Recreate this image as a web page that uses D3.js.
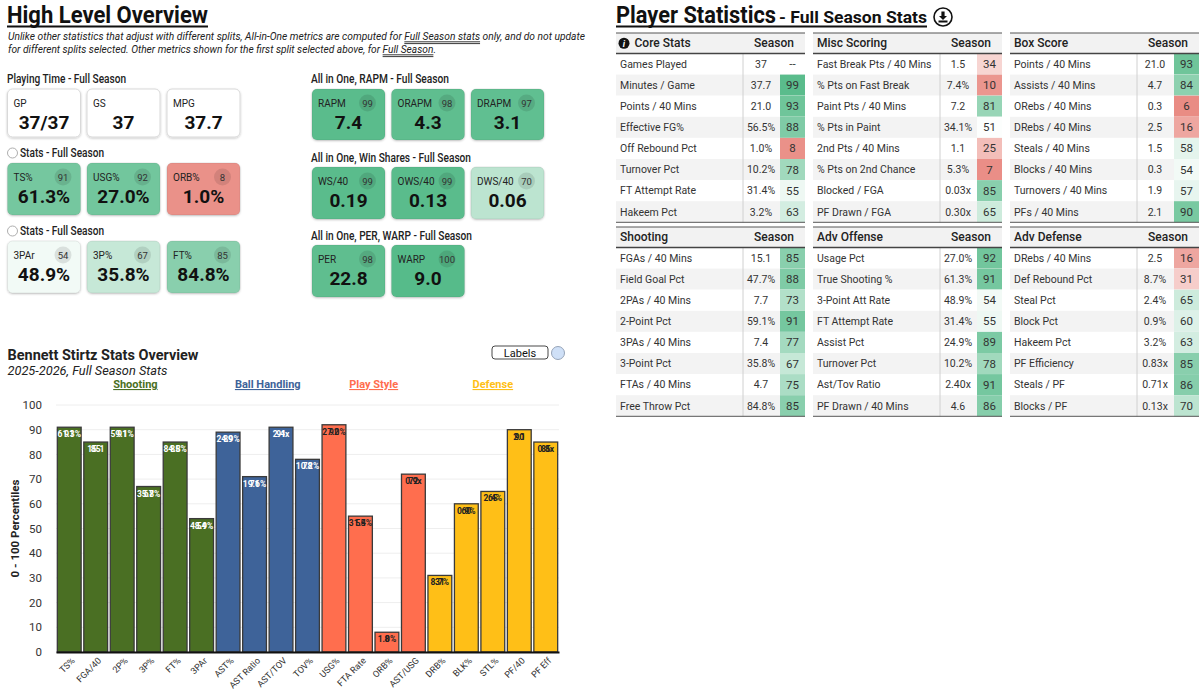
<!DOCTYPE html>
<html>
<head>
<meta charset="utf-8">
<script src="https://cdn.jsdelivr.net/npm/d3@7"></script>
<style>
  body { margin: 0; background: #fff; }
  svg text { font-family: Roboto, "Liberation Sans", sans-serif; }
</style>
</head>
<body>
<svg id="chart" width="1201" height="690"></svg>
<script>
// ---- card data (left, top) ----
const playingLabels = ['GP', 'GS', 'MPG'];
const playingValues = ['37/37', '37', '37.7'];
const rapmLabels = ['RAPM', 'ORAPM', 'DRAPM'];
const rapmValues = ['7.4', '4.3', '3.1'];
const rapmPct = [99, 98, 97];
const statsALabels = ['TS%', 'USG%', 'ORB%'];
const statsAValues = ['61.3%', '27.0%', '1.0%'];
const statsAPct = [91, 92, 8];
const wsLabels = ['WS/40', 'OWS/40', 'DWS/40'];
const wsValues = ['0.19', '0.13', '0.06'];
const wsPct = [99, 99, 70];
const statsBLabels = ['3PAr', '3P%', 'FT%'];
const statsBValues = ['48.9%', '35.8%', '84.8%'];
const statsBPct = [54, 67, 85];
const perLabels = ['PER', 'WARP'];
const perValues = ['22.8', '9.0'];
const perPct = [98, 100];

// ---- bar chart data ----
const groupNames = ['Shooting', 'Ball Handling', 'Play Style', 'Defense'];
const barCategories = ['TS%', 'FGA/40', '2P%', '3P%', 'FT%', '3PAr', 'AST%', 'AST Ratio', 'AST/TOV', 'TOV%',
  'USG%', 'FTA Rate', 'ORB%', 'AST/USG', 'DRB%', 'BLK%', 'STL%', 'PF/40', 'PF Eff'];
const barGroups = ['Shooting', 'Shooting', 'Shooting', 'Shooting', 'Shooting', 'Shooting',
  'Ball Handling', 'Ball Handling', 'Ball Handling', 'Ball Handling',
  'Play Style', 'Play Style', 'Play Style', 'Play Style',
  'Defense', 'Defense', 'Defense', 'Defense', 'Defense'];
const barPercentiles = [91, 85, 91, 67, 85, 54, 89, 71, 91, 78, 92, 55, 8, 72, 31, 60, 65, 90, 85];
const barValueLabels = ['61.3%', '15.1', '59.1%', '35.8%', '84.8%', '48.9%', '24.9%', '19.6%', '2.4x', '10.2%',
  '27.0%', '31.4%', '1.0%', '0.9x', '8.7%', '0.9%', '2.4%', '2.1', '0.8x'];
const yTicks = [0, 10, 20, 30, 40, 50, 60, 70, 80, 90, 100];

// ---- tables ----
const coreLabels = ['Games Played', 'Minutes / Game', 'Points / 40 Mins', 'Effective FG%', 'Off Rebound Pct', 'Turnover Pct', 'FT Attempt Rate', 'Hakeem Pct'];
const coreValues = ['37', '37.7', '21.0', '56.5%', '1.0%', '10.2%', '31.4%', '3.2%'];
const corePct = [null, 99, 93, 88, 8, 78, 55, 63];
const miscLabels = ['Fast Break Pts / 40 Mins', '% Pts on Fast Break', 'Paint Pts / 40 Mins', '% Pts in Paint', '2nd Pts / 40 Mins', '% Pts on 2nd Chance', 'Blocked / FGA', 'PF Drawn / FGA'];
const miscValues = ['1.5', '7.4%', '7.2', '34.1%', '1.1', '5.3%', '0.03x', '0.30x'];
const miscPct = [34, 10, 81, 51, 25, 7, 85, 65];
const boxLabels = ['Points / 40 Mins', 'Assists / 40 Mins', 'ORebs / 40 Mins', 'DRebs / 40 Mins', 'Steals / 40 Mins', 'Blocks / 40 Mins', 'Turnovers / 40 Mins', 'PFs / 40 Mins'];
const boxValues = ['21.0', '4.7', '0.3', '2.5', '1.5', '0.3', '1.9', '2.1'];
const boxPct = [93, 84, 6, 16, 58, 54, 57, 90];
const shootLabels = ['FGAs / 40 Mins', 'Field Goal Pct', '2PAs / 40 Mins', '2-Point Pct', '3PAs / 40 Mins', '3-Point Pct', 'FTAs / 40 Mins', 'Free Throw Pct'];
const shootValues = ['15.1', '47.7%', '7.7', '59.1%', '7.4', '35.8%', '4.7', '84.8%'];
const shootPct = [85, 88, 73, 91, 77, 67, 75, 85];
const offLabels = ['Usage Pct', 'True Shooting %', '3-Point Att Rate', 'FT Attempt Rate', 'Assist Pct', 'Turnover Pct', 'Ast/Tov Ratio', 'PF Drawn / 40 Mins'];
const offValues = ['27.0%', '61.3%', '48.9%', '31.4%', '24.9%', '10.2%', '2.40x', '4.6'];
const offPct = [92, 91, 54, 55, 89, 78, 91, 86];
const defLabels = ['DRebs / 40 Mins', 'Def Rebound Pct', 'Steal Pct', 'Block Pct', 'Hakeem Pct', 'PF Efficiency', 'Steals / PF', 'Blocks / PF'];
const defValues = ['2.5', '8.7%', '2.4%', '0.9%', '3.2%', '0.83x', '0.71x', '0.13x'];
const defPct = [16, 31, 65, 60, 63, 85, 86, 70];

const groupColors = { 'Shooting': '#4a6f23', 'Ball Handling': '#3e6399', 'Play Style': '#ff6e4e', 'Defense': '#ffbf17' };
const labelColors = { 'Shooting': '#fff', 'Ball Handling': '#fff', 'Play Style': '#222', 'Defense': '#222' };

const ARIAL = '"Liberation Sans", Arial, sans-serif';

const pctColor = p => p == null ? null : (p >= 50
  ? d3.interpolateRgb('#ffffff', '#57bb8a')((p - 50) / 50)
  : d3.interpolateRgb('#ffffff', '#e67c73')((50 - p) / 50));

const svg = d3.select('#chart');

const defs = svg.append('defs');
defs.append('filter').attr('id', 'shadow')
  .attr('x', '-10%').attr('y', '-10%').attr('width', '120%').attr('height', '135%')
  .append('feDropShadow')
  .attr('dx', 0).attr('dy', 1).attr('stdDeviation', 1.1)
  .attr('flood-color', '#000').attr('flood-opacity', 0.22);

// fit a text node into a given width
const fit = (sel, w) => sel.attr('textLength', w).attr('lengthAdjust', 'spacingAndGlyphs');

// ================= LEFT: High Level Overview =================
svg.append('text').attr('x', 7).attr('y', 23)
  .attr('font-size', 23).attr('font-weight', 700).attr('fill', '#111')
  .text('High Level Overview').call(fit, 201);
svg.append('line').attr('x1', 7).attr('x2', 208).attr('y1', 26.5).attr('y2', 26.5)
  .attr('stroke', '#111').attr('stroke-width', 2);

function noteLine(y, str, target, ul) {
  const t = svg.append('text').attr('x', 8).attr('y', y)
    .attr('font-size', 11.5).attr('font-style', 'italic').attr('fill', '#222').text(str);
  const node = t.node();
  const k = target / node.getComputedTextLength();
  const i = str.indexOf(ul);
  const x0 = 8 + node.getSubStringLength(0, i) * k;
  const w = node.getSubStringLength(i, ul.length) * k;
  t.call(fit, target);
  [y + 1.8, y + 3.6].forEach(yy => svg.append('line')
    .attr('x1', x0).attr('x2', x0 + w).attr('y1', yy).attr('y2', yy)
    .attr('stroke', '#222').attr('stroke-width', 0.9));
}
noteLine(40, 'Unlike other statistics that adjust with different splits, All-in-One metrics are computed for Full Season stats only, and do not update', 577, 'Full Season stats');
noteLine(53, 'for different splits selected. Other metrics shown for the first split selected above, for Full Season.', 428, 'Full Season');

function sectionLabel(x, y, str, w) {
  svg.append('text').attr('x', x).attr('y', y)
    .attr('font-size', 12).attr('font-weight', 500).attr('fill', '#222')
    .text(str).call(fit, w);
}
function radio(y) {
  svg.append('circle').attr('cx', 12.5).attr('cy', y).attr('r', 5)
    .attr('fill', '#fff').attr('stroke', '#999').attr('stroke-width', 0.8);
}

const leftX = [7.5, 87, 167];
const rightX = [312, 391.5, 471];
const cardW = 73;

function drawCards(xs, top, h, labels, values, pcts) {
  const cards = svg.append('g').selectAll('g')
    .data(labels.map((l, i) => ({ l, v: values[i], p: pcts ? pcts[i] : null, x: xs[i] })))
    .join('g')
    .attr('transform', d => `translate(${d.x},${top})`);
  cards.append('rect').attr('width', cardW).attr('height', h).attr('rx', 5)
    .attr('fill', d => d.p == null ? '#fff' : pctColor(d.p))
    .attr('stroke', d => d.p == null ? '#d9d9d9' : 'rgba(0,0,0,0.07)')
    .attr('filter', 'url(#shadow)');
  cards.append('text').attr('x', 6).attr('y', 18)
    .attr('font-size', 10).attr('fill', '#222').text(d => d.l);
  cards.filter(d => d.p != null).append('circle')
    .attr('cx', cardW - 17.5).attr('cy', 14).attr('r', 8.5)
    .attr('fill', 'rgba(0,0,0,0.1)');
  cards.filter(d => d.p != null).append('text')
    .attr('x', cardW - 17.5).attr('y', 17.5).attr('text-anchor', 'middle')
    .attr('font-size', 9.5).attr('fill', '#333').text(d => d.p);
  cards.append('text').attr('x', cardW / 2).attr('y', 40).attr('text-anchor', 'middle')
    .attr('font-size', 19).attr('font-weight', 700).attr('fill', '#111').text(d => d.v);
}

sectionLabel(7, 83, 'Playing Time - Full Season', 119);
drawCards(leftX, 89, 48, playingLabels, playingValues, null);
sectionLabel(311, 83, 'All in One, RAPM - Full Season', 138);
drawCards(rightX, 89, 51, rapmLabels, rapmValues, rapmPct);

radio(153);
sectionLabel(20, 157, 'Stats - Full Season', 84);
drawCards(leftX, 163, 52, statsALabels, statsAValues, statsAPct);
sectionLabel(311, 162, 'All in One, Win Shares - Full Season', 160);
drawCards(rightX, 167, 52, wsLabels, wsValues, wsPct);

radio(231);
sectionLabel(20, 235, 'Stats - Full Season', 84);
drawCards(leftX, 241, 52, statsBLabels, statsBValues, statsBPct);
sectionLabel(311, 240, 'All in One, PER, WARP - Full Season', 161);
drawCards(rightX, 245, 52, perLabels, perValues, perPct);

// ================= LEFT: Bar chart =================
svg.append('text').attr('x', 7.5).attr('y', 360)
  .attr('font-size', 14.5).attr('font-weight', 700).attr('fill', '#222')
  .text('Bennett Stirtz Stats Overview').call(fit, 191);
svg.append('text').attr('x', 7.5).attr('y', 375)
  .attr('font-size', 13).attr('font-style', 'italic').attr('fill', '#222')
  .text('2025-2026, Full Season Stats').call(fit, 160);

// Labels toggle
svg.append('rect').attr('x', 492).attr('y', 346).attr('width', 56).attr('height', 13).attr('rx', 3)
  .attr('fill', '#fff').attr('stroke', '#333').attr('stroke-width', 0.9);
svg.append('text').attr('x', 520).attr('y', 356.5).attr('text-anchor', 'middle')
  .attr('font-size', 11).attr('fill', '#111').attr('font-family', ARIAL).text('Labels');
svg.append('circle').attr('cx', 558).attr('cy', 353).attr('r', 6.5)
  .attr('fill', '#cfe0f7').attr('stroke', '#8c9bb0').attr('stroke-width', 0.9);

const x = d3.scaleBand().domain(barCategories).range([56, 559]).paddingInner(0.1).paddingOuter(0.05);
const y = d3.scaleLinear().domain([0, 100]).range([652, 405]);

// gridlines
svg.append('g').selectAll('line').data(yTicks).join('line')
  .attr('x1', 56).attr('x2', 559)
  .attr('y1', d => y(d)).attr('y2', d => y(d))
  .attr('stroke', '#eeeeee').attr('stroke-width', 1);

// y axis
const yAxis = svg.append('g').attr('transform', 'translate(44,0)')
  .call(d3.axisLeft(y).tickValues(yTicks).tickSize(0).tickPadding(2));
yAxis.select('.domain').remove();
yAxis.selectAll('text').attr('font-size', 11.5).attr('fill', '#333').attr('font-family', ARIAL);

svg.append('text')
  .attr('transform', `translate(19,${y(50)}) rotate(-90)`)
  .attr('text-anchor', 'middle').attr('font-size', 11.5).attr('font-weight', 700)
  .attr('fill', '#222').attr('font-family', ARIAL)
  .text('0 - 100 Percentiles');

// group legend
const groupCenter = g => {
  const cats = barCategories.filter((c, i) => barGroups[i] === g);
  return (x(cats[0]) + x(cats[cats.length - 1]) + x.bandwidth()) / 2;
};
svg.append('g').selectAll('text').data(groupNames).join('text')
  .attr('x', groupCenter).attr('y', 388).attr('text-anchor', 'middle')
  .attr('font-size', 11).attr('font-weight', 700)
  .attr('text-decoration', 'underline')
  .attr('fill', d => groupColors[d]).text(d => d);

// bars
const bars = barCategories.map((c, i) => ({ c, p: barPercentiles[i], v: barValueLabels[i], g: barGroups[i] }));
svg.append('g').selectAll('rect').data(bars).join('rect')
  .attr('x', d => x(d.c)).attr('width', x.bandwidth())
  .attr('y', d => y(d.p)).attr('height', d => y(0) - y(d.p))
  .attr('fill', d => groupColors[d.g])
  .attr('stroke', '#3a3a3a').attr('stroke-width', 1.3);

// value + percentile labels, both centred at the bar top (they overlap, as in the source)
const lab = svg.append('g').selectAll('g').data(bars).join('g')
  .attr('transform', d => `translate(${x(d.c) + x.bandwidth() / 2},${y(d.p) + 10})`)
  .attr('font-size', 8.5).attr('font-weight', 700).attr('font-family', ARIAL)
  .attr('text-anchor', 'middle');
lab.append('text').attr('fill', d => labelColors[d.g]).text(d => d.v);
lab.append('text').attr('fill', d => labelColors[d.g]).text(d => d.p);

// x axis
const xAxis = svg.append('g').attr('transform', 'translate(0,652)')
  .call(d3.axisBottom(x).tickSize(0).tickSizeOuter(0));
xAxis.select('.domain').attr('stroke', '#111').attr('stroke-width', 2);
xAxis.selectAll('text')
  .attr('font-size', 9).attr('fill', '#333').attr('font-family', ARIAL)
  .attr('x', 0).attr('y', 0).attr('dy', '0.35em')
  .attr('text-anchor', 'end')
  .attr('transform', 'translate(4,7) rotate(-45)');

// ================= RIGHT: Player Statistics =================
svg.append('text').attr('x', 616).attr('y', 23)
  .attr('font-size', 23).attr('font-weight', 700).attr('fill', '#111')
  .text('Player Statistics').call(fit, 160);
svg.append('text').attr('x', 779).attr('y', 23)
  .attr('font-size', 16.5).attr('font-weight', 700).attr('fill', '#111')
  .text('- Full Season Stats').call(fit, 148);
svg.append('line').attr('x1', 616).attr('x2', 927).attr('y1', 26.5).attr('y2', 26.5)
  .attr('stroke', '#111').attr('stroke-width', 2);
// download icon
const dl = svg.append('g').attr('transform', 'translate(943,17)');
dl.append('circle').attr('r', 9).attr('fill', '#fff').attr('stroke', '#111').attr('stroke-width', 1.6);
dl.append('path').attr('d', 'M-1.6,-5.5 H1.6 V-1 H4 L0,3 L-4,-1 H-1.6 Z').attr('fill', '#111');
dl.append('rect').attr('x', -4.5).attr('y', 3.5).attr('width', 9).attr('height', 2).attr('fill', '#111');

const tableW = 189, headH = 20.5, rowH = 21.1;
function drawTable(tx, ty, title, labels, values, pcts, info) {
  const g = svg.append('g').attr('transform', `translate(${tx},${ty})`);
  g.append('rect').attr('width', tableW).attr('height', headH).attr('fill', '#f2f2f2');
  if (info) {
    g.append('circle').attr('cx', 8).attr('cy', headH / 2).attr('r', 5.5).attr('fill', '#111');
    g.append('text').attr('x', 8).attr('y', headH / 2 + 3.5).attr('text-anchor', 'middle')
      .attr('font-size', 9).attr('font-weight', 700).attr('font-style', 'italic')
      .attr('font-family', 'serif').attr('fill', '#fff').text('i');
  }
  g.append('text').attr('x', info ? 18.5 : 4).attr('y', headH / 2 + 4.2)
    .attr('font-size', 12).attr('font-weight', 500).attr('fill', '#222').text(title);
  g.append('text').attr('x', 158).attr('y', headH / 2 + 4.2).attr('text-anchor', 'middle')
    .attr('font-size', 12).attr('font-weight', 500).attr('fill', '#222').text('Season');

  const rows = g.selectAll('g.row')
    .data(labels.map((l, i) => ({ l, v: values[i], p: pcts[i], i })))
    .join('g').attr('class', 'row')
    .attr('transform', d => `translate(0,${headH + d.i * rowH})`);
  rows.append('rect').attr('width', tableW).attr('height', rowH)
    .attr('fill', d => d.i % 2 ? '#f3f3f3' : '#fff');
  rows.filter(d => d.p != null).append('rect')
    .attr('x', 164).attr('width', tableW - 164).attr('height', rowH)
    .attr('fill', d => pctColor(d.p));
  rows.append('text').attr('x', 4).attr('y', rowH / 2 + 3.8)
    .attr('font-size', 10.5).attr('font-family', ARIAL).attr('fill', '#333').text(d => d.l);
  rows.append('text').attr('x', 145).attr('y', rowH / 2 + 3.8).attr('text-anchor', 'middle')
    .attr('font-size', 10.5).attr('font-family', ARIAL).attr('fill', '#333').text(d => d.v);
  rows.append('text').attr('x', 176.5).attr('y', rowH / 2 + 4).attr('text-anchor', 'middle')
    .attr('font-size', 11.5).attr('font-family', ARIAL).attr('fill', '#333')
    .text(d => d.p == null ? '--' : d.p);

  const bottom = headH + labels.length * rowH;
  g.append('line').attr('x1', 127).attr('x2', 127).attr('y1', headH).attr('y2', bottom)
    .attr('stroke', '#d0d0d0');
  g.append('line').attr('x1', 0).attr('x2', tableW).attr('y1', 0).attr('y2', 0)
    .attr('stroke', '#555').attr('stroke-width', 1);
  g.append('line').attr('x1', 0).attr('x2', tableW).attr('y1', headH).attr('y2', headH)
    .attr('stroke', '#444').attr('stroke-width', 1.6);
  g.append('line').attr('x1', 0).attr('x2', tableW).attr('y1', bottom).attr('y2', bottom)
    .attr('stroke', '#555').attr('stroke-width', 1);
}

const tableX = [616, 813, 1010];
drawTable(tableX[0], 33, 'Core Stats', coreLabels, coreValues, corePct, true);
drawTable(tableX[1], 33, 'Misc Scoring', miscLabels, miscValues, miscPct, false);
drawTable(tableX[2], 33, 'Box Score', boxLabels, boxValues, boxPct, false);
drawTable(tableX[0], 227, 'Shooting', shootLabels, shootValues, shootPct, false);
drawTable(tableX[1], 227, 'Adv Offense', offLabels, offValues, offPct, false);
drawTable(tableX[2], 227, 'Adv Defense', defLabels, defValues, defPct, false);
</script>
</body>
</html>
